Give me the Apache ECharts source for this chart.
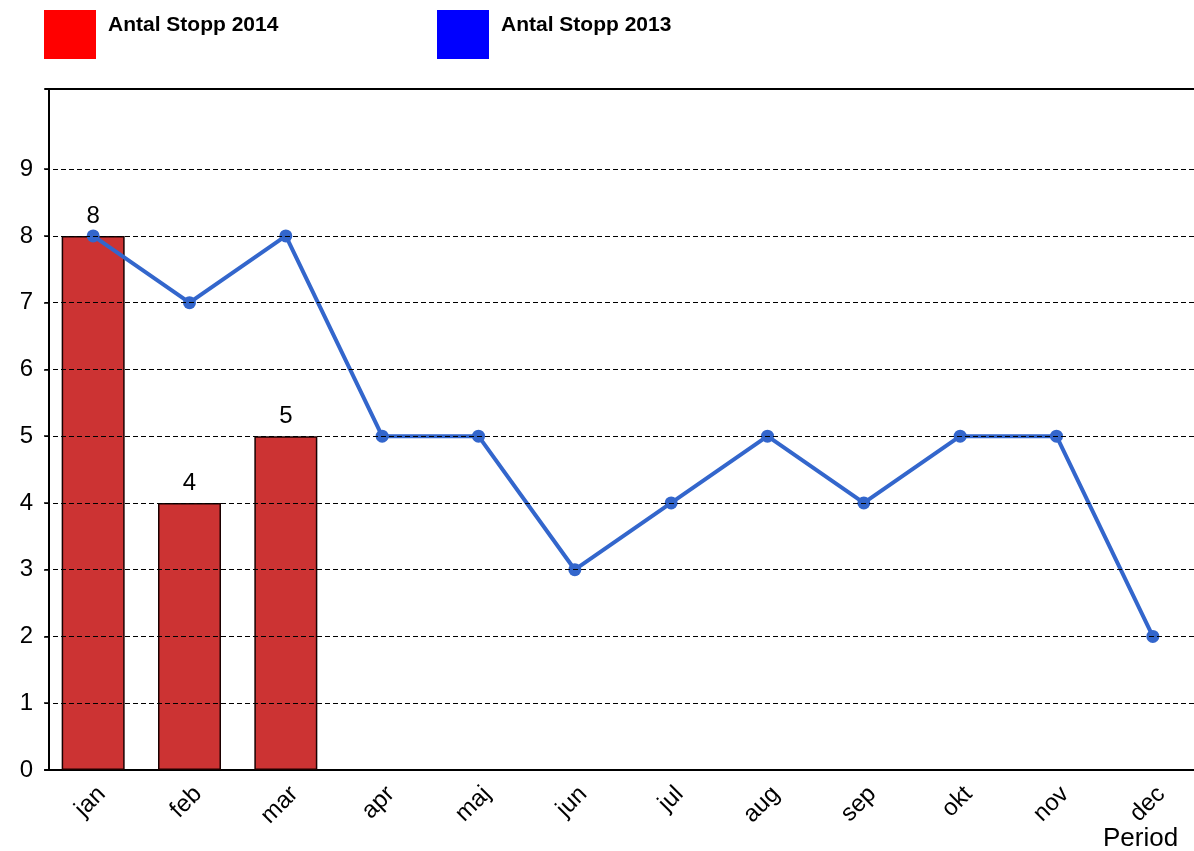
<!DOCTYPE html>
<html>
<head>
<meta charset="utf-8">
<script src="https://cdn.jsdelivr.net/npm/echarts@6/dist/echarts.min.js"></script>
<style>
html,body{margin:0;padding:0;background:#fff;overflow:hidden;}
#c{width:1210px;height:851px;}
</style>
</head>
<body>
<div id="c"></div>
<script>
const months = ['jan','feb','mar','apr','maj','jun','jul','aug','sep','okt','nov','dec'];
const stopp2014 = [8, 4, 5];
const stopp2013 = [8, 7, 8, 5, 5, 3, 4, 5, 4, 5, 5, 2];
const yTicks = [0, 1, 2, 3, 4, 5, 6, 7, 8, 9];
const gridValues = [1, 2, 3, 4, 5, 6, 7, 8, 9];
const name2014 = 'Antal Stopp 2014';
const name2013 = 'Antal Stopp 2013';
const axisName = 'Period';

const FONT = '"Liberation Sans", Arial, sans-serif';
const chart = echarts.init(document.getElementById('c'), null, {renderer: 'canvas'});
const legendText = {
  fontFamily: FONT, color: '#000',
  rich: {a: {fontFamily: FONT, fontSize: 21, fontWeight: 'bold', color: '#000', padding: [0, 0, 18, 7]}}
};

chart.setOption({
  animation: false,
  backgroundColor: '#fff',
  textStyle: {fontFamily: FONT},
  title: {
    text: axisName, left: 1103, top: 826, padding: 0,
    textStyle: {fontFamily: FONT, fontSize: 26, fontWeight: 'normal', color: '#000'}
  },
  legend: [
    {data: [{name: name2014, itemStyle: {color: '#ff0000', borderWidth: 0}}],
     left: 44, top: 10, padding: 0, icon: 'rect', itemWidth: 52, itemHeight: 49,
     formatter: '{a|{name}}', textStyle: legendText, selectedMode: false},
    {data: [{name: name2013, itemStyle: {color: '#0000ff', borderWidth: 0}}],
     left: 437, top: 10, padding: 0, icon: 'rect', itemWidth: 52, itemHeight: 49,
     formatter: '{a|{name}}', textStyle: legendText, selectedMode: false}
  ],
  grid: {left: 45, top: 89, right: 9, bottom: 81, show: false},
  xAxis: [
    {
      type: 'category', data: months,
      axisLine: {lineStyle: {color: '#000', width: 2}},
      axisTick: {show: false},
      axisLabel: {rotate: 45, fontSize: 24, color: '#000', margin: 12, verticalAlign: 'top', fontFamily: FONT}
    },
    {
      type: 'category', data: months, position: 'top',
      axisLine: {show: true, lineStyle: {color: '#000', width: 2}},
      axisTick: {show: false}, axisLabel: {show: false}, splitLine: {show: false}
    }
  ],
  yAxis: {
    type: 'value', min: 0, max: 10.2, interval: 1, offset: -4,
    splitLine: {show: false},
    axisLine: {show: true, lineStyle: {color: '#000', width: 2}},
    axisTick: {show: true, length: 5, customValues: yTicks, lineStyle: {color: '#000', width: 1.5}},
    axisLabel: {fontSize: 24, color: '#000', margin: 16, fontFamily: FONT, customValues: yTicks}
  },
  series: [
    {
      name: name2014, type: 'bar', data: stopp2014, barWidth: 63,
      itemStyle: {color: '#cc3333', borderColor: '#1a0000', borderWidth: 1.5},
      label: {show: true, position: 'top', fontSize: 24, color: '#000', distance: 8, fontFamily: FONT},
      markLine: {
        silent: true, symbol: 'none', animation: false,
        label: {show: false},
        lineStyle: {color: '#000', type: [5, 3], width: 1},
        data: gridValues.map(v => ({yAxis: v}))
      },
      z: 2
    },
    {
      name: name2013, type: 'line', data: stopp2013,
      lineStyle: {color: '#3366cc', width: 4},
      itemStyle: {color: '#3366cc'},
      symbol: 'circle', symbolSize: 13,
      z: 3
    }
  ]
});
</script>
</body>
</html>
